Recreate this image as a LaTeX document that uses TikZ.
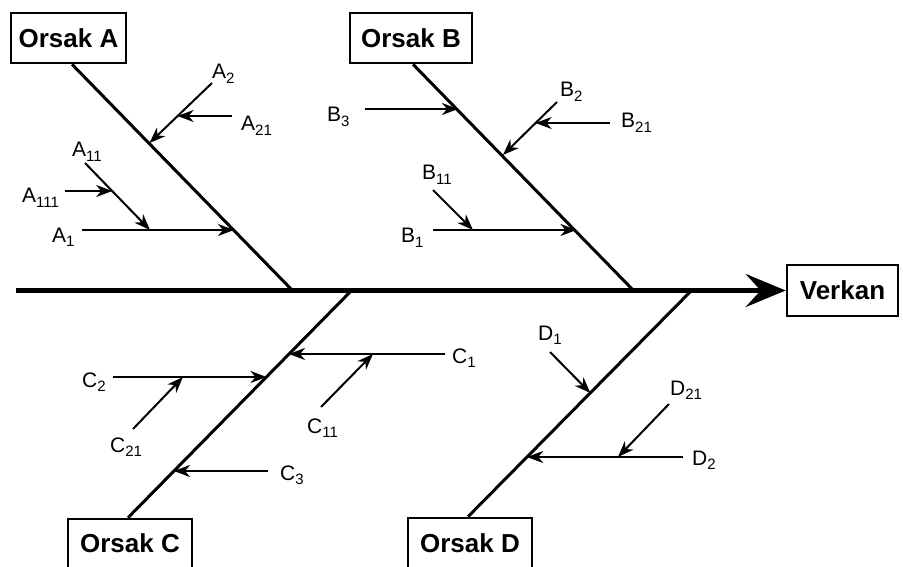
\documentclass[tikz,border=0pt]{standalone}
\usepackage{fontspec}
\setmainfont{Liberation Sans}
\usetikzlibrary{arrows.meta}
\newcommand\lbl[2]{#1\raisebox{-4.5pt}{\fontsize{15}{15}\selectfont #2}}
\begin{document}
\begin{tikzpicture}[x=1pt,y=-1pt,
  box/.style={draw,line width=2.6pt,minimum height=50pt,inner sep=0pt,font=\bfseries\fontsize{26}{26}\selectfont},
  spine/.style={line width=5pt,-{Stealth[length=40pt,width=33pt,inset=15pt]}},
  bone/.style={line width=3pt},
  cause/.style={line width=2pt,-{Stealth[length=16pt,width=12pt,inset=5pt]}},
  lab/.style={anchor=base west,inner sep=0pt,font=\fontsize{21}{21}\selectfont}]
\useasboundingbox (0,0) rectangle (903,567);
% boxes
\node[box,minimum width=115pt] (A) at (68.5,38) {Orsak A};
\node[box,minimum width=122pt] (B) at (411,38) {Orsak B};
\node[box,minimum width=124pt,minimum height=49pt] (C) at (130,543.5) {Orsak C};
\node[box,minimum width=124pt] (D) at (470,543) {Orsak D};
\node[box,minimum width=111pt,minimum height=51pt] (V) at (842.5,290.5) {Verkan};
% spine
\coordinate (s0) at (16,290.5);
\draw[spine] (s0) -- (V.west);
% junctions
\coordinate (jA) at (292,290);
\coordinate (jB) at (633,290);
\coordinate (jC) at (352,290);
\coordinate (jD) at (692,290);
\draw[bone] ([xshift=3.5pt]A.south) -- (jA);
\draw[bone] ([xshift=2pt]B.south) -- (jB);
\draw[bone] (jC) -- ([xshift=-2pt]C.north);
\draw[bone] (jD) -- ([xshift=-2pt]D.north);
% ---- A ----
\coordinate (a1) at (234,230);
\coordinate (a2) at (149.5,143);
\coordinate (a1t) at (82,230);
\coordinate (a2t) at (212,83);
\coordinate (a21) at (177.6,116);
\coordinate (a21t) at (232,116);
\coordinate (a11) at (150,230);
\coordinate (a11t) at (85,163);
\coordinate (a111) at (112.2,191);
\coordinate (a111t) at (65,191);
\draw[cause] (a1t) -- (a1);
\draw[cause] (a2t) -- (a2);
\draw[cause] (a21t) -- (a21);
\draw[cause] (a11t) -- (a11);
\draw[cause] (a111t) -- (a111);
\node[lab] (lA2) at (212,79) {\lbl{A}{2}};
\node[lab] (lA21) at (241,131) {\lbl{A}{21}};
\node[lab] (lA11) at (72,157) {\lbl{A}{11}};
\node[lab] (lA111) at (22,203) {\lbl{A}{111}};
\node[lab] (lA1) at (52,242) {\lbl{A}{1}};
% ---- B ----
\coordinate (b3) at (458,109);
\coordinate (b3t) at (365,109);
\coordinate (b2) at (503,155);
\coordinate (b2t) at (557,102);
\coordinate (b21) at (535.6,123);
\coordinate (b21t) at (610,123);
\coordinate (b1) at (576.5,230);
\coordinate (b1t) at (433,230);
\coordinate (b11) at (473,230);
\coordinate (b11t) at (433,190);
\draw[cause] (b3t) -- (b3);
\draw[cause] (b2t) -- (b2);
\draw[cause] (b21t) -- (b21);
\draw[cause] (b1t) -- (b1);
\draw[cause] (b11t) -- (b11);
\node[lab] (lB2) at (560,97) {\lbl{B}{2}};
\node[lab] (lB21) at (621,128) {\lbl{B}{21}};
\node[lab] (lB3) at (327,122) {\lbl{B}{3}};
\node[lab] (lB11) at (422,180) {\lbl{B}{11}};
\node[lab] (lB1) at (401,243) {\lbl{B}{1}};
% ---- C ----
\coordinate (c1) at (289,354);
\coordinate (c1t) at (445,354);
\coordinate (c11) at (373,354);
\coordinate (c11t) at (321,407);
\coordinate (c2) at (266.5,377);
\coordinate (c2t) at (113,377);
\coordinate (c21) at (183,377);
\coordinate (c21t) at (133,429);
\coordinate (c3) at (174,471);
\coordinate (c3t) at (268,471);
\draw[cause] (c1t) -- (c1);
\draw[cause] (c11t) -- (c11);
\draw[cause] (c2t) -- (c2);
\draw[cause] (c21t) -- (c21);
\draw[cause] (c3t) -- (c3);
\node[lab] (lC1) at (452,363) {\lbl{C}{1}};
\node[lab] (lC11) at (307,433) {\lbl{C}{11}};
\node[lab] (lC2) at (82,387) {\lbl{C}{2}};
\node[lab] (lC21) at (110,452) {\lbl{C}{21}};
\node[lab] (lC3) at (280,480) {\lbl{C}{3}};
% ---- D ----
\coordinate (d1) at (590.4,393);
\coordinate (d1t) at (550,352);
\coordinate (d2) at (527.2,457);
\coordinate (d2t) at (683,457);
\coordinate (d21) at (618,457);
\coordinate (d21t) at (669,404);
\draw[cause] (d1t) -- (d1);
\draw[cause] (d2t) -- (d2);
\draw[cause] (d21t) -- (d21);
\node[lab] (lD1) at (538,340) {\lbl{D}{1}};
\node[lab] (lD21) at (670,395) {\lbl{D}{21}};
\node[lab] (lD2) at (692,465) {\lbl{D}{2}};
\end{tikzpicture}
\end{document}
